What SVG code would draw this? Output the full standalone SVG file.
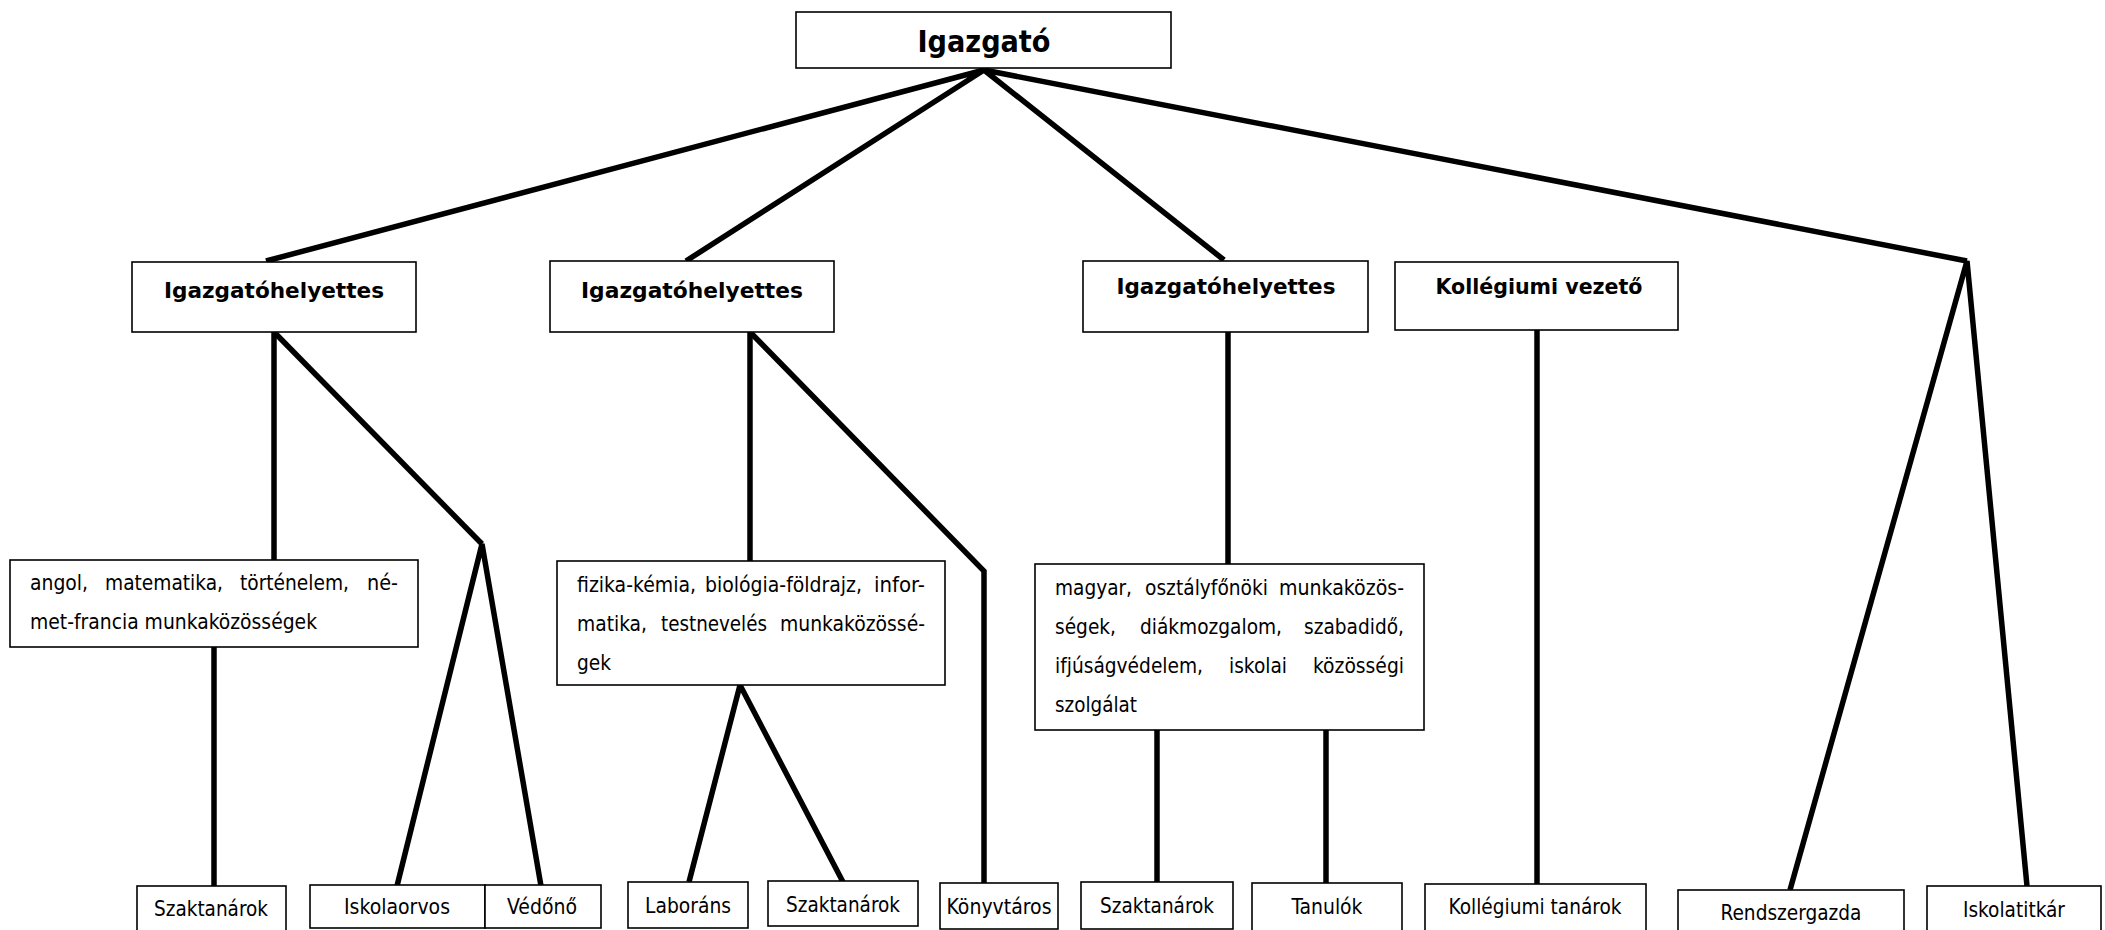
<svg xmlns="http://www.w3.org/2000/svg" width="2105" height="930" viewBox="0 0 2105 930">
<style>
.box{fill:#fff;stroke:#000;stroke-width:1.6}
.ln{stroke:#000;stroke-width:5.5;fill:none;stroke-linecap:butt}
text{font-family:"DejaVu Sans Condensed","DejaVu Sans",sans-serif;fill:#000}
.h{font-weight:bold;font-size:21px;text-anchor:middle}
.t{font-size:21.5px}
.c{font-size:21px;text-anchor:middle}
.e{text-anchor:end}
</style>
<rect width="2105" height="930" fill="#fff"/>
<g id="connectors">
<polyline class="ln" points="266,261 984,70 686,261"/>
<polyline class="ln" points="1224,260 984,70 1967,261"/>
<line class="ln" x1="274" y1="332" x2="274" y2="560"/>
<line class="ln" x1="274" y1="332" x2="482" y2="544"/>
<polyline class="ln" points="397,886 482,544 541,886"/>
<line class="ln" x1="214" y1="647" x2="214" y2="886"/>
<line class="ln" x1="750" y1="332" x2="750" y2="561"/>
<polyline class="ln" points="750,332 984,571 984,883"/>
<polyline class="ln" points="689,882 740,685 843,882"/>
<line class="ln" x1="1228" y1="332" x2="1228" y2="564"/>
<line class="ln" x1="1157" y1="730" x2="1157" y2="882"/>
<line class="ln" x1="1326" y1="730" x2="1326" y2="883"/>
<line class="ln" x1="1537" y1="330" x2="1537" y2="884"/>
<polyline class="ln" points="1790,890 1967,261 2027,886"/>
</g>
<g id="igazgato"><rect class="box" x="796" y="12" width="375" height="56"/><text x="984" y="52" font-weight="bold" font-size="30" text-anchor="middle" textLength="133" lengthAdjust="spacingAndGlyphs">Igazgató</text></g>
<g id="vh1"><rect class="box" x="132" y="262" width="284" height="70"/><text class="h" x="274" y="298" textLength="220" lengthAdjust="spacingAndGlyphs">Igazgatóhelyettes</text></g>
<g id="vh2"><rect class="box" x="550" y="261" width="284" height="71"/><text class="h" x="692" y="298" textLength="222" lengthAdjust="spacingAndGlyphs">Igazgatóhelyettes</text></g>
<g id="vh3"><rect class="box" x="1083" y="261" width="285" height="71"/><text class="h" x="1226" y="294" textLength="219" lengthAdjust="spacingAndGlyphs">Igazgatóhelyettes</text></g>
<g id="kollvez"><rect class="box" x="1395" y="262" width="283" height="68"/><text class="h" x="1539" y="294" textLength="207" lengthAdjust="spacingAndGlyphs">Kollégiumi vezető</text></g>
<g id="munkakA"><rect class="box" x="10" y="560" width="408" height="87"/>
<text class="t" x="30" y="590" textLength="58" lengthAdjust="spacingAndGlyphs">angol,</text>
<text class="t" x="105" y="590" textLength="118" lengthAdjust="spacingAndGlyphs">matematika,</text>
<text class="t" x="240" y="590" textLength="109" lengthAdjust="spacingAndGlyphs">történelem,</text>
<text class="t e" x="398" y="590" textLength="31" lengthAdjust="spacingAndGlyphs">né-</text>
<text class="t" x="30" y="629" textLength="287" lengthAdjust="spacingAndGlyphs">met-francia munkaközösségek</text></g>
<g id="munkakB"><rect class="box" x="557" y="561" width="388" height="124"/>
<text class="t" x="577" y="592" textLength="119" lengthAdjust="spacingAndGlyphs">fizika-kémia,</text>
<text class="t" x="705" y="592" textLength="157" lengthAdjust="spacingAndGlyphs">biológia-földrajz,</text>
<text class="t e" x="925" y="592" textLength="51" lengthAdjust="spacingAndGlyphs">infor-</text>
<text class="t" x="577" y="631" textLength="70" lengthAdjust="spacingAndGlyphs">matika,</text>
<text class="t" x="661" y="631" textLength="106" lengthAdjust="spacingAndGlyphs">testnevelés</text>
<text class="t e" x="925" y="631" textLength="145" lengthAdjust="spacingAndGlyphs">munkaközössé-</text>
<text class="t" x="577" y="670" textLength="34" lengthAdjust="spacingAndGlyphs">gek</text></g>
<g id="munkakC"><rect class="box" x="1035" y="564" width="389" height="166"/>
<text class="t" x="1055" y="595" textLength="77" lengthAdjust="spacingAndGlyphs">magyar,</text>
<text class="t" x="1145" y="595" textLength="123" lengthAdjust="spacingAndGlyphs">osztályfőnöki</text>
<text class="t e" x="1404" y="595" textLength="125" lengthAdjust="spacingAndGlyphs">munkaközös-</text>
<text class="t" x="1055" y="634" textLength="61" lengthAdjust="spacingAndGlyphs">ségek,</text>
<text class="t" x="1140" y="634" textLength="142" lengthAdjust="spacingAndGlyphs">diákmozgalom,</text>
<text class="t e" x="1404" y="634" textLength="100" lengthAdjust="spacingAndGlyphs">szabadidő,</text>
<text class="t" x="1055" y="673" textLength="148" lengthAdjust="spacingAndGlyphs">ifjúságvédelem,</text>
<text class="t" x="1229" y="673" textLength="58" lengthAdjust="spacingAndGlyphs">iskolai</text>
<text class="t e" x="1404" y="673" textLength="91" lengthAdjust="spacingAndGlyphs">közösségi</text>
<text class="t" x="1055" y="712" textLength="82" lengthAdjust="spacingAndGlyphs">szolgálat</text></g>
<g id="szaktanarok1"><rect class="box" x="137" y="886" width="149" height="46"/><text class="c" x="211" y="916" textLength="114" lengthAdjust="spacingAndGlyphs">Szaktanárok</text></g>
<g id="iskolaorvos"><rect class="box" x="310" y="885" width="175" height="43"/><text class="c" x="397" y="914" textLength="106" lengthAdjust="spacingAndGlyphs">Iskolaorvos</text></g>
<g id="vedono"><rect class="box" x="485" y="885" width="116" height="43"/><text class="c" x="542" y="914" textLength="70" lengthAdjust="spacingAndGlyphs">Védőnő</text></g>
<g id="laborans"><rect class="box" x="628" y="882" width="120" height="46"/><text class="c" x="688" y="913" textLength="86" lengthAdjust="spacingAndGlyphs">Laboráns</text></g>
<g id="szaktanarok2"><rect class="box" x="768" y="881" width="150" height="45"/><text class="c" x="843" y="912" textLength="114" lengthAdjust="spacingAndGlyphs">Szaktanárok</text></g>
<g id="konyvtaros"><rect class="box" x="940" y="883" width="118" height="46"/><text class="c" x="999" y="914" textLength="105" lengthAdjust="spacingAndGlyphs">Könyvtáros</text></g>
<g id="szaktanarok3"><rect class="box" x="1081" y="882" width="152" height="47"/><text class="c" x="1157" y="913" textLength="114" lengthAdjust="spacingAndGlyphs">Szaktanárok</text></g>
<g id="tanulok"><rect class="box" x="1252" y="883" width="150" height="48"/><text class="c" x="1327" y="914" textLength="71" lengthAdjust="spacingAndGlyphs">Tanulók</text></g>
<g id="kolltanarok"><rect class="box" x="1425" y="884" width="221" height="47"/><text class="c" x="1535" y="914" textLength="173" lengthAdjust="spacingAndGlyphs">Kollégiumi tanárok</text></g>
<g id="rendszergazda"><rect class="box" x="1678" y="890" width="226" height="42"/><text class="c" x="1791" y="920" textLength="141" lengthAdjust="spacingAndGlyphs">Rendszergazda</text></g>
<g id="iskolatitkar"><rect class="box" x="1927" y="886" width="174" height="46"/><text class="c" x="2014" y="917" textLength="102" lengthAdjust="spacingAndGlyphs">Iskolatitkár</text></g>
</svg>
